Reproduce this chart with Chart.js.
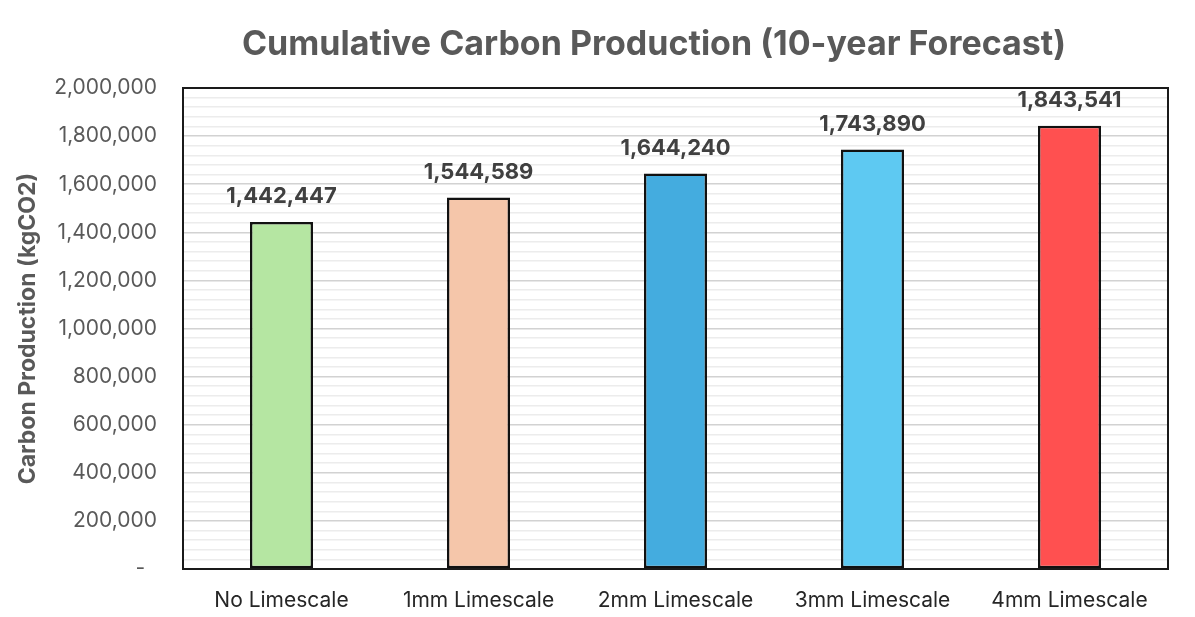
<!DOCTYPE html>
<html>
<head>
<meta charset="utf-8">
<script src="https://cdn.jsdelivr.net/npm/chart.js@4.4.1/dist/chart.umd.min.js"></script>
<style>
  html, body { margin: 0; padding: 0; background: #fff; }
  #wrap { width: 1195px; height: 617px; }
</style>
</head>
<body>
<div id="wrap"><canvas id="c"></canvas></div>
<script>
  /* ── Data ── */
  const CATEGORIES = ['No Limescale', '1mm Limescale', '2mm Limescale', '3mm Limescale', '4mm Limescale'];
  const CARBON = [1442447, 1544589, 1644240, 1743890, 1843541];
  const BAR_COLORS = ['#b5e6a2', '#f5c6aa', '#44acdf', '#5ec9f2', '#ff5050'];
  const Y_MAX = 2000000;
  const MAJOR_STEP = 200000;
  const MINOR_STEP = 40000;
  const TITLE = 'Cumulative Carbon Production (10-year Forecast)';
  const Y_TITLE = 'Carbon Production (kgCO2)';

  const FONT = "Inter, 'Open Sans', sans-serif";

  function fmt(n) {
    return n.toLocaleString('en-US');
  }

  /* ── Plugins ── */
  const titlePlugin = {
    id: 'customTitle',
    afterDraw(chart) {
      const { ctx } = chart;
      ctx.save();
      ctx.fillStyle = '#595959';
      ctx.font = 'bold 34px ' + FONT;
      ctx.textAlign = 'center';
      ctx.textBaseline = 'middle';
      ctx.fillText(TITLE, 654, 45);
      ctx.restore();
    }
  };

  const framePlugin = {
    id: 'plotFrame',
    afterDatasetsDraw(chart) {
      const { ctx, chartArea: a } = chart;
      ctx.save();
      ctx.strokeStyle = '#1a1a1a';
      ctx.lineWidth = 2;
      ctx.strokeRect(a.left, a.top, a.right - a.left, a.bottom - a.top);
      ctx.restore();
    }
  };

  const labelPlugin = {
    id: 'valueLabels',
    afterDatasetsDraw(chart) {
      const { ctx } = chart;
      const meta = chart.getDatasetMeta(0);
      ctx.save();
      ctx.fillStyle = '#404040';
      ctx.font = 'bold 22px ' + FONT;
      ctx.textAlign = 'center';
      ctx.textBaseline = 'alphabetic';
      meta.data.forEach((bar, i) => {
        ctx.fillText(fmt(CARBON[i]), bar.x, bar.y - 19);
      });
      ctx.restore();
    }
  };

  /* ── Chart ── */
  new Chart(document.getElementById('c'), {
    type: 'bar',
    data: {
      labels: CATEGORIES,
      datasets: [{
        data: CARBON,
        backgroundColor: BAR_COLORS,
        borderColor: '#111',
        borderWidth: 2.5,
        borderSkipped: false,
        categoryPercentage: 1,
        barPercentage: 0.32
      }]
    },
    options: {
      responsive: true,
      maintainAspectRatio: false,
      animation: false,
      layout: { padding: { top: 88, right: 27, left: 0, bottom: 0 } },
      plugins: {
        legend: { display: false },
        tooltip: { enabled: false }
      },
      scales: {
        x: {
          grid: { display: false, drawTicks: false },
          border: { display: false },
          ticks: {
            padding: 19,
            color: '#262626',
            font: { family: FONT, size: 21 }
          },
          afterFit(scale) { scale.height = 48; }
        },
        y: {
          min: 0,
          max: Y_MAX,
          border: { display: false },
          grid: {
            drawTicks: false,
            lineWidth: 1.5,
            color: (c) => (c.tick && c.tick.value % MAJOR_STEP === 0) ? '#d2d2d2' : '#ececec'
          },
          ticks: {
            stepSize: MINOR_STEP,
            autoSkip: false,
            padding: 26,
            color: '#595959',
            font: { family: FONT, size: 21 },
            callback: (v) => {
              if (v % MAJOR_STEP !== 0) return '';
              return v === 0 ? '-  ' : fmt(v);
            }
          },
          title: {
            display: true,
            text: Y_TITLE,
            color: '#595959',
            font: { family: FONT, size: 23, weight: 'bold' },
            padding: { top: 14, bottom: 0 }
          },
          afterFit(scale) { scale.width = 183; }
        }
      }
    },
    plugins: [titlePlugin, framePlugin, labelPlugin]
  });
</script>
</body>
</html>
